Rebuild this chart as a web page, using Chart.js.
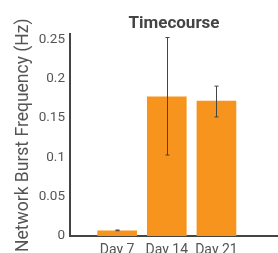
<!DOCTYPE html>
<html>
<head>
<meta charset="utf-8">
<script src="https://cdn.jsdelivr.net/npm/chart.js@4"></script>
<style>
  html, body { margin: 0; padding: 0; background: #fff; overflow: hidden; }
  #wrap { width: 278px; height: 253px; overflow: hidden; }
</style>
</head>
<body>
<div id="wrap"><canvas id="chart" width="278" height="268"></canvas></div>
<script>
// data
const days = ['Day 7', 'Day 14', 'Day 21'];
const positions = [1, 2, 3];
const burstFreq = [0.0067, 0.177, 0.1717];
const errLow = [0.0067, 0.103, 0.1515];
const errHigh = [0.0076, 0.2525, 0.1907];
const yTicks = [0, 0.05, 0.1, 0.15, 0.2, 0.25];

const grey = '#555';
const font = 'Roboto';

// error bars drawn over the bars
const errorBars = {
    id: 'errorBars',
    afterDatasetsDraw(chart) {
        const { ctx, scales: { x, y } } = chart;
        ctx.save();
        ctx.strokeStyle = '#444';
        ctx.lineWidth = 1;
        positions.forEach((p, i) => {
            const px = Math.round(x.getPixelForValue(p)) + 0.5;
            const top = y.getPixelForValue(errHigh[i]);
            const bot = y.getPixelForValue(errLow[i]);
            ctx.beginPath();
            ctx.moveTo(px, top);
            ctx.lineTo(px, bot);
            ctx.moveTo(px - 2, top);
            ctx.lineTo(px + 2, top);
            ctx.moveTo(px - 2, bot);
            ctx.lineTo(px + 2, bot);
            ctx.stroke();
        });
        ctx.restore();
    }
};

new Chart(document.getElementById('chart'), {
    type: 'bar',
    data: {
        datasets: [{
            data: positions.map((p, i) => ({ x: p, y: burstFreq[i] })),
            backgroundColor: '#F7941D',
            borderWidth: 0,
            barThickness: 39,
        }]
    },
    options: {
        responsive: false,
        animation: false,
        layout: { padding: { left: 0, right: 0, top: 0, bottom: 0 } },
        plugins: {
            legend: { display: false },
            tooltip: { enabled: false },
            title: {
                display: true,
                text: 'Timecourse',
                fullSize: false,
                color: '#444',
                font: { family: font, size: 17, weight: 'bold' },
                padding: { top: 14, bottom: 0 },
            },
        },
        scales: {
            x: {
                type: 'linear',
                offset: false,
                min: 0.05,
                max: 4.24,
                grid: { display: false, drawTicks: false },
                border: { display: true, color: '#444', width: 2 },
                afterBuildTicks: (scale) => {
                    scale.ticks = positions.map((p) => ({ value: p }));
                },
                ticks: {
                    color: grey,
                    padding: 6,
                    font: { family: font, size: 14 },
                    callback: (v) => days[positions.indexOf(v)],
                },
                afterFit: (scale) => { scale.height = 32; },
            },
            y: {
                min: 0,
                max: 0.2565,
                grid: { display: false, drawTicks: false },
                border: { display: true, color: '#444', width: 2 },
                afterBuildTicks: (scale) => {
                    scale.ticks = yTicks.map((v) => ({ value: v }));
                },
                ticks: {
                    color: grey,
                    padding: 5,
                    font: { family: font, size: 13.5 },
                    callback: (v) => String(v),
                },
                title: {
                    display: true,
                    text: 'Network Burst Frequency (Hz)',
                    color: grey,
                    font: { family: font, size: 17.5 },
                    padding: { top: 13, bottom: 0 },
                },
                afterFit: (scale) => { scale.width = 70; },
            },
        },
    },
    plugins: [errorBars],
});
</script>
</body>
</html>
